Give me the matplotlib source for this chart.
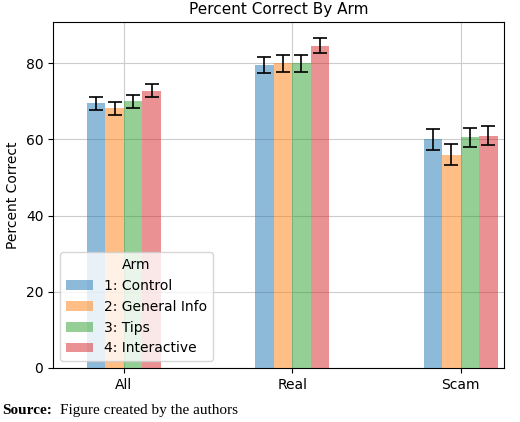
import matplotlib
matplotlib.use("Agg")
import matplotlib.pyplot as plt
import numpy as np

categories = ["All", "Real", "Scam"]
arms = ["1: Control", "2: General Info", "3: Tips", "4: Interactive"]
values = {
    "1: Control": [69.5, 79.5, 60.0],
    "2: General Info": [68.2, 80.0, 56.0],
    "3: Tips": [70.0, 80.0, 60.5],
    "4: Interactive": [72.8, 84.6, 61.0],
}
errors = {
    "1: Control": [1.7, 2.0, 2.7],
    "2: General Info": [1.7, 2.2, 2.8],
    "3: Tips": [1.7, 2.2, 2.6],
    "4: Interactive": [1.7, 1.9, 2.6],
}
colors = ["#1f77b4", "#ff7f0e", "#2ca02c", "#d62728"]

fig = plt.figure(figsize=(5.2, 4.22), dpi=100)
ax = fig.add_axes([0.102, 0.128, 0.868, 0.82])
x = np.arange(len(categories))
w = 0.11
for i, arm in enumerate(arms):
    ax.bar(x + (i - 1.5) * w, values[arm], w, yerr=errors[arm], color=colors[i],
           alpha=0.5, capsize=5, error_kw=dict(elinewidth=1.2, capthick=1.2), label=arm, zorder=3)
ax.set_xticks(x)
ax.set_xticklabels(categories)
ax.set_xlim(-0.42, 2.26)
ax.set_ylabel("Percent Correct")
ax.set_title("Percent Correct By Arm", fontsize=11)
ax.grid(True, color="#cccccc", zorder=0)
ax.set_axisbelow(True)
ax.legend(title="Arm", loc="lower left", fontsize=10)
t = fig.text(0.005, 0.02, "Source:", family="Liberation Serif", weight="bold", fontsize=11)
fig.text(0.115, 0.02, "Figure created by the authors", family="Liberation Serif", fontsize=11)
fig.savefig("out.png")
